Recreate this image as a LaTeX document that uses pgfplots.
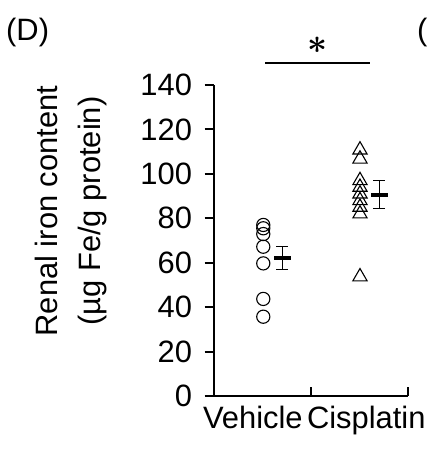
\documentclass[border=0pt]{standalone}
\usepackage{graphicx}
\usepackage{pgfplots}
\pgfplotsset{compat=1.18}
\usepackage{fontspec}
\setmainfont{Liberation Sans}
\newcommand{\fs}{\fontsize{31}{37}\selectfont}
\begin{document}
\begin{tikzpicture}
\useasboundingbox (0,0) rectangle (432bp,-450bp);
\node[anchor=base west, font=\fs, inner sep=0pt] at (6bp,-40bp) {(D)};
\node[anchor=base west, font=\fs, inner sep=0pt] at (417bp,-40bp) {(};
\node[rotate=90, align=center, font=\fontsize{31}{44}\selectfont, inner sep=0pt] at (71bp,-211bp) {Renal iron content\\(µg Fe/g protein)};
\begin{axis}[
  at={(214bp,-396bp)}, anchor=south west,
  scale only axis, width=194bp, height=311bp,
  xmin=0, xmax=2, ymin=0, ymax=140,
  axis x line=bottom, axis y line=left,
  axis line style={-, line width=2bp},
  clip=false,
  ytick={0,20,...,140},
  xtick={1,2}, xticklabels={},
  extra x ticks={0.4,1.57},
  extra x tick labels={Vehicle,Cisplatin},
  extra x tick style={major tick length=0pt},
  ytick align=outside, xtick align=inside,
  major tick length=9.5bp,
  tick style={line width=2bp, black},
  tick label style={font=\fs},
  /pgf/number format/assume math mode=true,
  xticklabel style={yshift=-7bp},
  yticklabel style={xshift=-9bp},
]
\addplot[only marks, mark=o, mark size=6.6bp, mark options={line width=1.1bp, black}] coordinates {
(0.508,77) (0.508,75.5) (0.508,72.9) (0.508,67.2) (0.508,59.7) (0.508,43.7) (0.508,35.7)
};
\addplot[only marks, mark=triangle, mark size=8.2bp, mark options={line width=1.1bp, black}] coordinates {
(1.505,110.8) (1.505,106.7) (1.505,97) (1.505,94) (1.505,91) (1.505,88) (1.505,85) (1.505,82) (1.505,53.7)
};
\addplot[only marks, mark=-, mark size=8.5bp, mark options={line width=4bp, black},
  error bars/.cd, y dir=both, y explicit,
  error bar style={line width=1.2bp, black},
  error mark options={mark size=5.8bp, line width=1.2bp, black, rotate=90}] coordinates {
(0.704,62.2) +- (0,5.1)
(1.704,90.6) +- (0,6.3)
};
\draw[line width=1.8bp] (axis cs:0.526,149.8) -- (axis cs:1.608,149.8);
\node[inner sep=0pt] at (axis cs:1.072,158) {\resizebox{20bp}{!}{\boldmath$\ast$}};
\end{axis}
\end{tikzpicture}
\end{document}
